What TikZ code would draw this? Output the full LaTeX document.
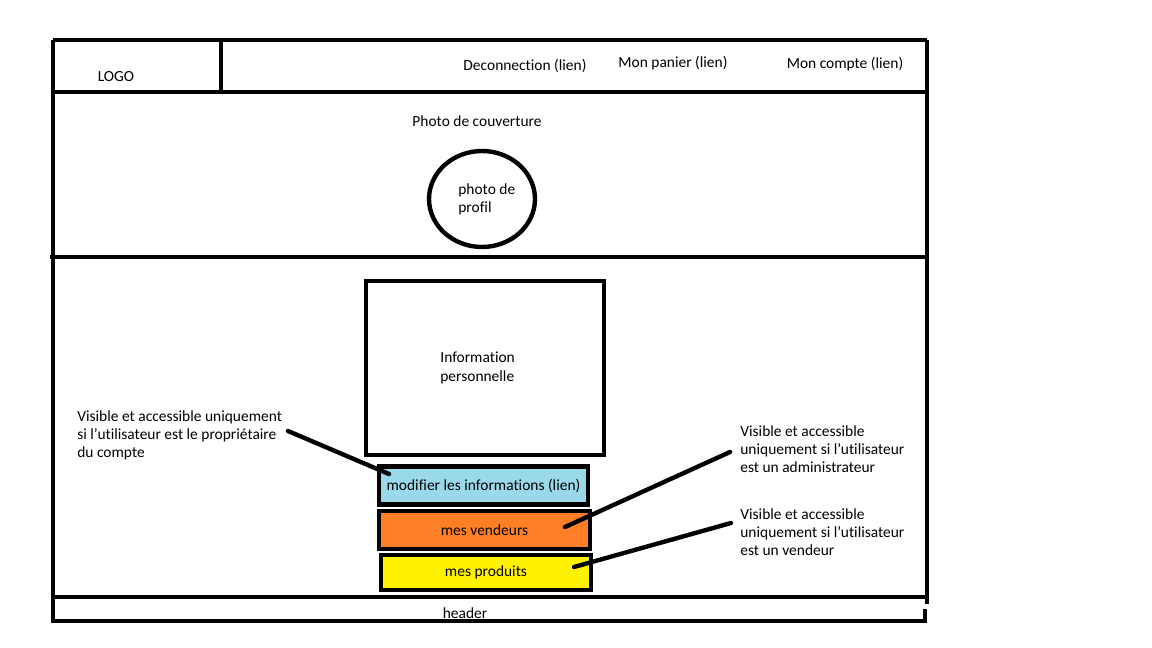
\documentclass[tikz,border=0pt]{standalone}
\usepackage{fontspec}
\setmainfont[Ligatures={NoCommon}]{Carlito}
\usetikzlibrary{positioning, calc}

\definecolor{lienbleu}{HTML}{99D9EA}
\definecolor{vendorange}{HTML}{FF7F27}
\definecolor{prodjaune}{HTML}{FFF200}

\begin{document}
\begin{tikzpicture}[
    x=0.02cm, y=-0.02cm,
    every node/.style={font=\fontsize{8.8}{10.3}\selectfont, inner sep=0pt}, % texte uniforme
    trait/.style={line width=2.5pt, black, line join=miter}, % cadres de la maquette
    lien/.style={line width=2.5pt, black, line cap=round}, % traits des annotations
    bouton/.style={draw, line width=2.5pt, minimum width=4.18cm, minimum height=0.76cm}, % boutons colores
    note/.style={align=left, anchor=north west} % textes d'annotation
]
    \useasboundingbox (0,0) rectangle (1152,648);

    % 1. cadre general et bandeaux
    \draw[trait] (53,40) -- (927,40);
    \draw[trait] (53,40) -- (53,621) -- (927,621);
    \draw[trait] (927,40) -- (927,604);
    \draw[trait] (925,609) -- (925,621);
    \draw[trait] (53,92) -- (927,92);
    \draw[trait] (221,40) -- (221,92);
    \draw[trait] (50,257) -- (927,257);
    \draw[trait] (53,597) -- (925,597);

    % 2. en-tete
    \node (logo) at (116,77) {LOGO};
    \node (deco) at (525,66) {Deconnection (lien)};
    \node (panier) at (673,63) {Mon panier (lien)};
    \node (compte) at (845,64) {Mon compte (lien)};

    % 3. couverture et photo de profil
    \node (couv) at (477,121) {Photo de couverture};
    \draw[trait] (482,199) ellipse [x radius=1.06cm, y radius=0.96cm];
    \node[note] (profil) at (458,183) {photo de\\profil};

    % 4. informations personnelles
    \node[draw, line width=2.5pt, minimum width=4.76cm, minimum height=3.48cm] (info) at (485,368) {};
    \node[note] (infotxt) at (440,352) {Information\\personnelle};

    % 5. boutons
    \node[bouton, fill=lienbleu] (modif) at (483.5,485.5) {modifier les informations (lien)};
    \node[bouton, fill=vendorange, minimum width=4.22cm] (vendeurs) at (484.5,530) {mes vendeurs};
    \node[bouton, fill=prodjaune, minimum width=4.2cm, minimum height=0.7cm] (produits) at (486,572.5) {mes produits};

    % 6. annotations
    \node[note] (noteproprio) at (77,410) {Visible et accessible uniquement\\si l'utilisateur est le propriétaire\\du compte};
    \node[note] (noteadmin) at (740,425) {Visible et accessible\\uniquement si l'utilisateur\\est un administrateur};
    \node[note] (notevend) at (740,508) {Visible et accessible\\uniquement si l'utilisateur\\est un vendeur};

    \coordinate (p1) at (288,431);
    \coordinate (p2) at (730,452);
    \coordinate (p3) at (731,523);
    \coordinate (q1) at (389,474);
    \coordinate (q2) at (565,527);
    \coordinate (q3) at (574,567);
    \draw[lien] (p1) -- (q1);
    \draw[lien] (p2) -- (q2);
    \draw[lien] (p3) -- (q3);

    % 7. pied de page
    \node (header) at (465,613) {header};
\end{tikzpicture}
\end{document}
